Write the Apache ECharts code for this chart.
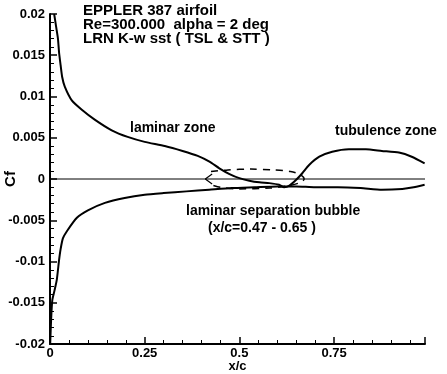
<!DOCTYPE html>
<html>
<head>
<meta charset="utf-8">
<script src="https://cdn.jsdelivr.net/npm/echarts@6/dist/echarts.min.js"></script>
<style>
  html, body { margin: 0; padding: 0; background: #fff; }
  #chart { width: 447px; height: 374px; }
</style>
</head>
<body>
<div id="chart"></div>
<script>
// upper surface (laminar -> bubble -> turbulent)
const upperX = [0.011, 0.016, 0.021, 0.024, 0.028, 0.032, 0.039, 0.058, 0.084, 0.118, 0.163, 0.205, 0.25,
  0.303, 0.35, 0.39, 0.421, 0.447, 0.474, 0.5, 0.526, 0.553, 0.579, 0.605, 0.618, 0.632, 0.65,
  0.666, 0.684, 0.711, 0.745, 0.789, 0.834, 0.876, 0.921, 0.955, 0.989];
const upperCf = [0.0200, 0.0185, 0.0170, 0.0153, 0.0138, 0.0124, 0.0112, 0.0095, 0.0084, 0.0072, 0.0059, 0.0051, 0.0045,
  0.0040, 0.0034, 0.0028, 0.0021, 0.0013, 0.0006, 0.0001, -0.0002, -0.0004, -0.0005, -0.0007, -0.0010, -0.0008, -0.0001,
  0.0007, 0.0017, 0.0027, 0.0033, 0.0036, 0.0036, 0.0034, 0.0032, 0.0027, 0.0019];

// lower surface
const lowerX = [0.0005, 0.003, 0.006, 0.012, 0.018, 0.024, 0.028, 0.034, 0.045, 0.071, 0.1, 0.145, 0.197, 0.25,
  0.3, 0.36, 0.42, 0.48, 0.54, 0.6, 0.65, 0.7, 0.76, 0.82, 0.876, 0.93, 0.96, 0.989];
const lowerCf = [-0.0200, -0.0170, -0.0147, -0.0135, -0.0122, -0.0098, -0.0085, -0.0072, -0.0063, -0.0047, -0.0038, -0.0029, -0.0023, -0.0019,
  -0.0017, -0.0015, -0.0013, -0.0011, -0.0010, -0.0009, -0.0009, -0.0010, -0.0010, -0.0011, -0.0013, -0.0012, -0.0010, -0.0007];

// separation bubble outline (dashed)
const bubbleX = [0.425, 0.47, 0.53, 0.59, 0.635, 0.662, 0.671, 0.662, 0.63, 0.58, 0.5, 0.45, 0.425];
const bubbleCf = [0.0009, 0.0011, 0.0012, 0.0011, 0.0009, 0.0005, 0.0000, -0.0004, -0.0008, -0.0011, -0.0012, -0.0010, -0.0007];

// reverse-flow arrow head on the zero line
const arrowX = [0.428, 0.41, 0.428];
const arrowCf = [0.0006, 0.0, -0.0006];

const zeroX = [0, 0.99];
const zeroCf = [0, 0];

const titleLines = ['EPPLER 387 airfoil', 'Re=300.000  alpha = 2 deg', 'LRN K-w sst ( TSL & STT )'];

const zip = (xs, ys) => xs.map((x, i) => [x, ys[i]]);
const font = '"Liberation Sans", Arial, sans-serif';

const chart = echarts.init(document.getElementById('chart'), null, { renderer: 'canvas' });

const lineStyleBase = { color: '#000', width: 2 };
const baseSeries = {
  type: 'line',
  showSymbol: false,
  symbol: 'none',
  smooth: 0.2,
  silent: true,
  animation: false,
};

chart.setOption({
  animation: false,
  grid: { left: 50, right: 22, top: 14, bottom: 30, outerBoundsMode: 'none' },
  xAxis: {
    type: 'value',
    min: 0,
    max: 0.99,
    interval: 0.25,
    name: 'x/c',
    nameLocation: 'middle',
    nameGap: 16,
    nameMoveOverlap: false,
    nameTextStyle: { color: '#000', fontFamily: font, fontWeight: 'bold', fontSize: 13 },
    axisLine: { show: true, onZero: false, lineStyle: { color: '#000', width: 2 } },
    axisTick: { show: true, inside: true, length: 7, lineStyle: { color: '#000', width: 1.5 } },
    minorTick: { show: true, splitNumber: 5, length: 4, lineStyle: { color: '#000', width: 1 } },
    axisLabel: { color: '#000', fontFamily: font, fontWeight: 'bold', fontSize: 13, margin: 3, showMaxLabel: false },
    splitLine: { show: false },
  },
  yAxis: {
    type: 'value',
    min: -0.02,
    max: 0.02,
    interval: 0.005,
    name: 'Cf',
    nameLocation: 'middle',
    nameGap: 32,
    nameRotate: 90,
    nameMoveOverlap: false,
    nameTextStyle: { color: '#000', fontFamily: font, fontWeight: 'bold', fontSize: 15 },
    axisLine: { show: true, onZero: false, lineStyle: { color: '#000', width: 2 } },
    axisTick: { show: true, inside: true, length: 7, lineStyle: { color: '#000', width: 1.5 } },
    minorTick: { show: true, splitNumber: 5, length: 4, lineStyle: { color: '#000', width: 1 } },
    axisLabel: { color: '#000', fontFamily: font, fontWeight: 'bold', fontSize: 13, margin: 5 },
    splitLine: { show: false },
  },
  series: [
    Object.assign({}, baseSeries, { name: 'zero', smooth: false, data: zip(zeroX, zeroCf), lineStyle: { color: '#000', width: 1 } }),
    Object.assign({}, baseSeries, { name: 'upper', data: zip(upperX, upperCf), lineStyle: lineStyleBase }),
    Object.assign({}, baseSeries, { name: 'lower', data: zip(lowerX, lowerCf), lineStyle: lineStyleBase }),
    Object.assign({}, baseSeries, { name: 'bubble', smooth: 0.3, data: zip(bubbleX, bubbleCf), lineStyle: { color: '#000', width: 1.5, type: [7, 6] } }),
    Object.assign({}, baseSeries, { name: 'arrow', smooth: false, data: zip(arrowX, arrowCf), lineStyle: { color: '#000', width: 1.2 } }),
  ],
  graphic: [
    ...titleLines.map((t, i) => ({
      type: 'text', left: 83, top: 3 + i * 14,
      style: { text: t, fill: '#000', font: 'bold 15px ' + font },
    })),
    { type: 'text', left: 130, top: 121, style: { text: 'laminar zone', fill: '#000', font: 'bold 14px ' + font } },
    { type: 'text', left: 335, top: 124, style: { text: 'tubulence zone', fill: '#000', font: 'bold 14px ' + font } },
    { type: 'text', left: 186, top: 204, style: { text: 'laminar separation bubble', fill: '#000', font: 'bold 14px ' + font } },
    { type: 'text', left: 208, top: 221, style: { text: '(x/c=0.47 - 0.65 )', fill: '#000', font: 'bold 14px ' + font } },
  ],
});
</script>
</body>
</html>
